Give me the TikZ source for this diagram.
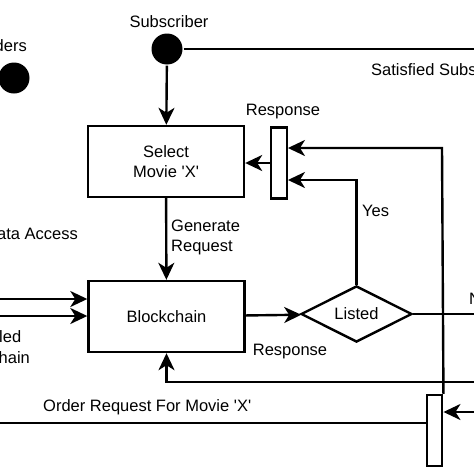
\documentclass[tikz,border=0pt]{standalone}
\usepackage{fontspec}
\setmainfont{Liberation Sans}
\usetikzlibrary{arrows.meta,shapes.geometric,positioning}
\newcommand{\sq}{\textquotesingle}

\begin{document}
\begin{tikzpicture}[x=1pt, y=-1pt, line width=2.4pt,
		font=\fontsize{16.5}{20.5}\selectfont,
		box/.style={draw, rectangle, minimum width=156pt, minimum height=71pt, align=center, inner sep=0pt},
		bar/.style={draw, rectangle, minimum width=15.5pt, minimum height=71pt, inner sep=0pt},
		dot/.style={circle, fill=black, minimum size=31pt, inner sep=0pt},
		arr/.style={-{Stealth[length=17pt, width=16pt, inset=5pt]}},
		lbl/.style={inner sep=0pt}]
		%%%%% START %%%%%
		\useasboundingbox (0, 0) rectangle (474, 474);
		\clip (0, 0) rectangle (474, 474);
		
		\node[dot] (sub) at (167, 49) {};
		\node[dot] (prov) at (14, 78) {};
		\node[lbl] (sublbl) at (169, 22) {Subscriber};
		\node[lbl, anchor=east] (provlbl) at (28, 46) {Providers};
		
		\node[box] (select) at (166, 161.5) {Select\\Movie \sq X\sq};
		\node[box] (chain) at (166.5, 316.5) {Blockchain};
		\node[draw, diamond, minimum width=111pt, minimum height=56pt, inner sep=0pt] (listed) at (356.5, 314) {Listed};
		
		\node[bar] (respbar) at (279, 163) {};
		\node[bar] (orderbar) at (434.5, 430.5) {};
		
		\coordinate (subout) at (474, 49);
		\coordinate (backtop) at (442, 148);
		\coordinate (yesturn) at (356.5, 180);
		\coordinate (noout) at (474, 314);
		\coordinate (backin) at (474, 382);
		\coordinate (orderout) at (0, 423);
		\coordinate (orderin) at (474, 412);
		\coordinate (in1) at (0, 299);
		\coordinate (in2) at (0, 316);
		
		% subscriber side
		\draw (sub) -- (subout);
		\draw[arr] (sub) -- (select);
		\draw[arr] (select) -- (chain);
		\draw[arr] (respbar.west) -- (select.east |- respbar.west);
		\draw[arr] (orderbar.north east) -- (backtop) -- (respbar.east |- backtop);
		\draw[arr] (listed.north) -- (yesturn) -- (respbar.east |- yesturn);
		
		% blockchain side
		\draw[arr] (in1) -- (chain.west |- in1);
		\draw[arr] (in2) -- (chain.west |- in2);
		\draw[arr] (chain) -- (listed);
		\draw (listed.east) -- (noout);
		\draw[arr] (backin) -| (chain.south);
		\draw (orderbar.west |- orderout) -- (orderout);
		\draw[arr] (orderin) -- (orderbar.east |- orderin);
		
		% labels
		\node[lbl, anchor=west] (satlbl) at (370, 70) {Satisfied Subscriber};
		\node[lbl] (resp1lbl) at (283, 112) {Response};
		\node[lbl, anchor=east] (datalbl) at (79, 234) {Data Access};
		\node[lbl, anchor=west, align=left] (genlbl) at (170, 237.5) {Generate\\Request};
		\node[lbl, anchor=west] (yeslbl) at (361, 211) {Yes};
		\node[lbl, align=center] (enlbl) at (-10, 347) {Labelled\\Blockchain};
		\node[lbl] (resp2lbl) at (290, 352) {Response};
		\node[lbl, anchor=west] (nolbl) at (468, 299) {No};
		\node[lbl, anchor=west] (orderlbl) at (42, 407) {Order Request For Movie \sq X\sq};
		%%%%% END %%%%%
	\end{tikzpicture}
\end{document}
